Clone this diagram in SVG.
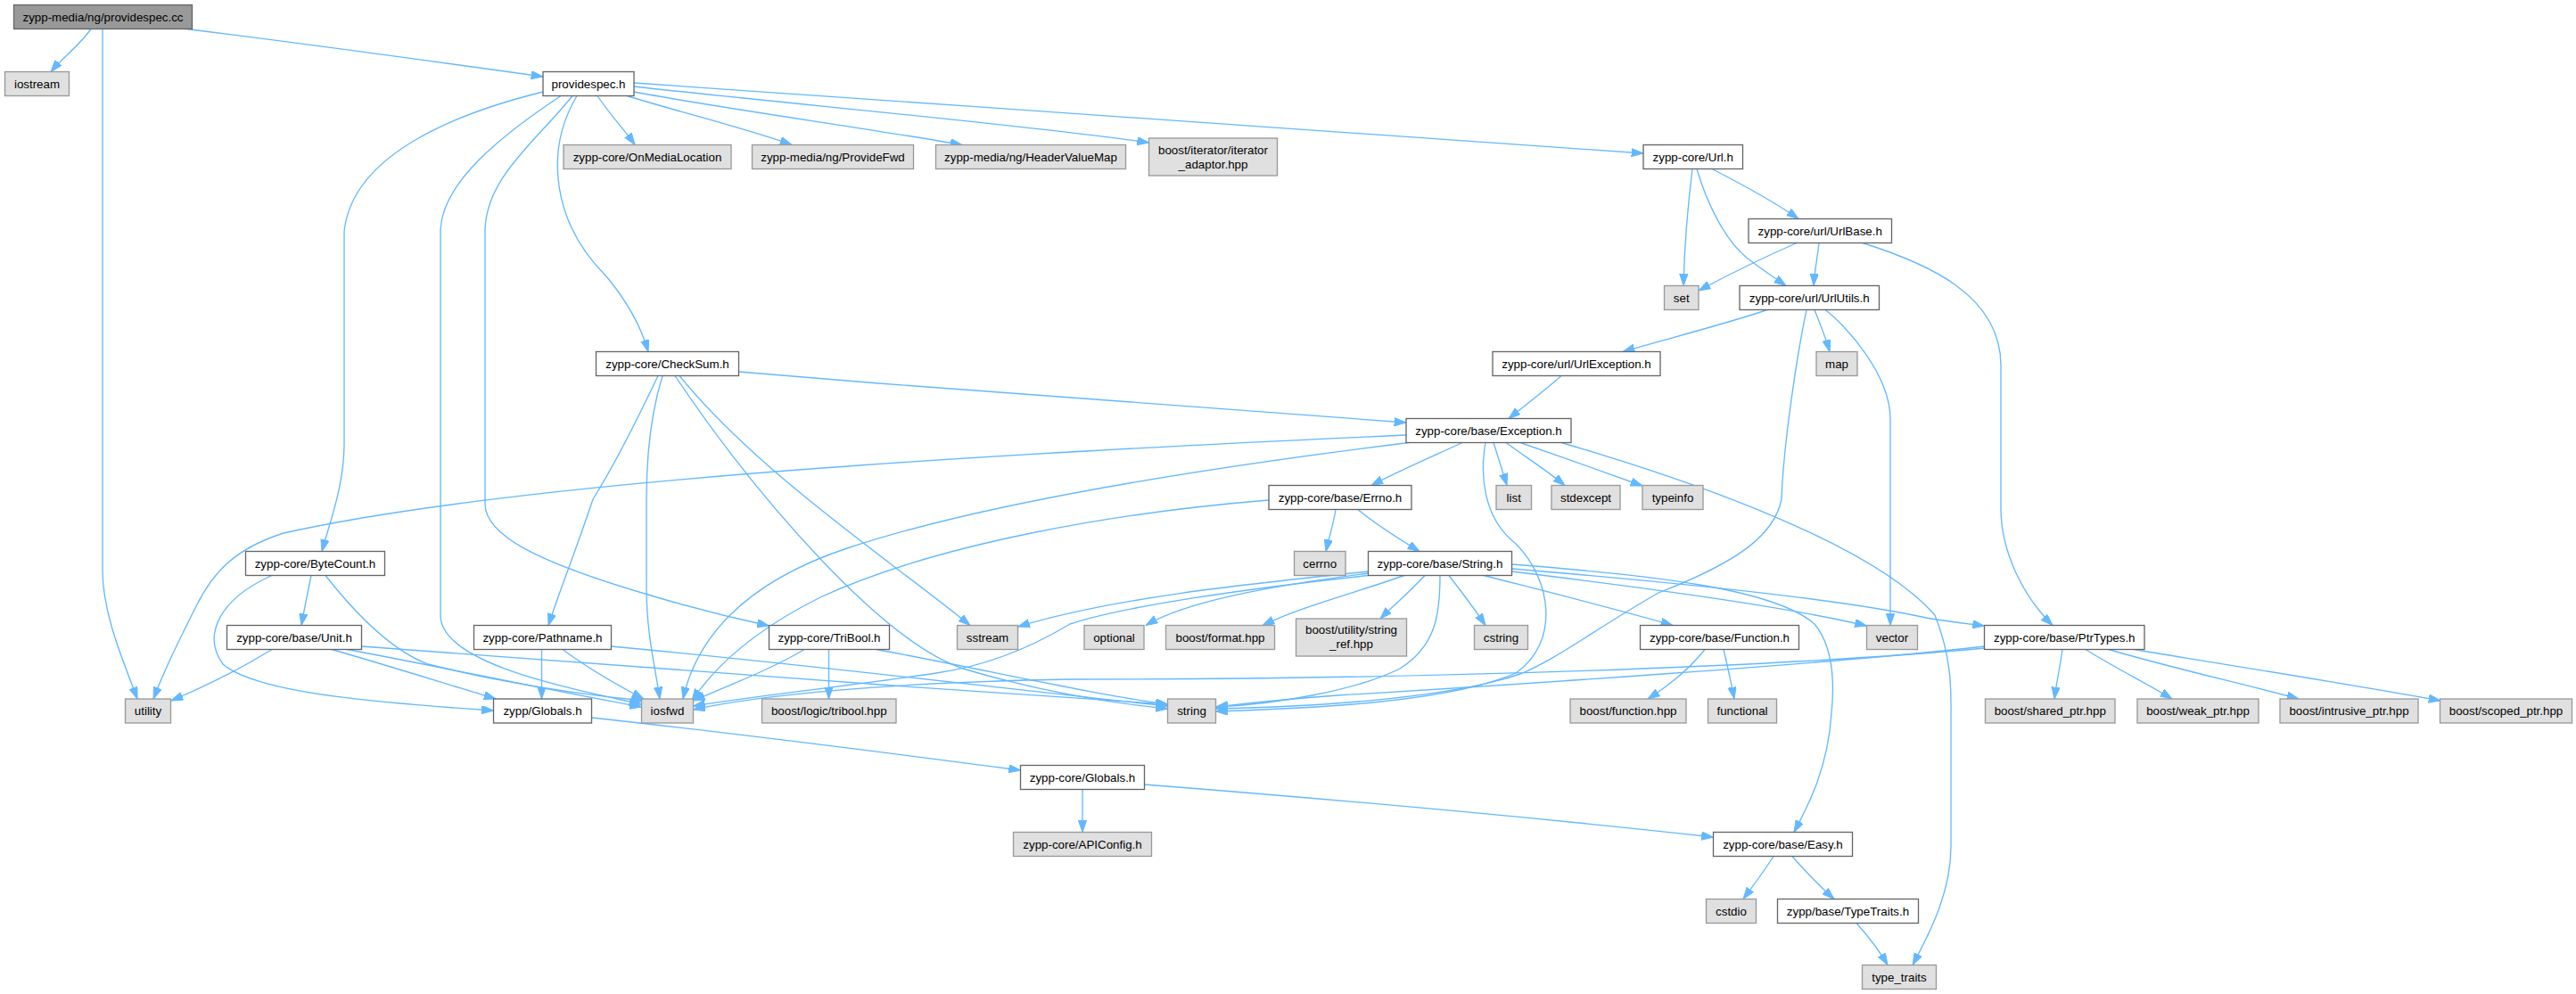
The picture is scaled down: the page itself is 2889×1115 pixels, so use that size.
<svg xmlns="http://www.w3.org/2000/svg" width="2889" height="1115" viewBox="0 0 2889 1115">
<style>
.e{fill:none;stroke:#63b8ff;stroke-width:1.33;marker-end:url(#a)}
.w rect{fill:#ffffff;stroke:#666666;stroke-width:1.33}
.g rect{fill:#e0e0e0;stroke:#999999;stroke-width:1.33}
.m rect{fill:#999999;stroke:#666666;stroke-width:1.33}
text{font-family:"Liberation Sans",Arial,Helvetica,sans-serif;font-size:13.33px;text-anchor:middle;fill:#000000}
</style>
<defs>
<marker id="a" markerUnits="userSpaceOnUse" markerWidth="14" markerHeight="10" refX="13.3" refY="4.67" orient="auto">
<path d="M0,0 L13.3,4.67 L0,9.33 z" fill="#63b8ff" stroke="#63b8ff" stroke-width="1"/>
</marker>
</defs>
<rect x="0" y="0" width="2889" height="1115" fill="#ffffff"/>
<g id="edges">
<path class="e" d="M102,32.5 C90,50 70,65 57,80.5"/>
<path class="e" d="M115,32.5 V640 C115,690 140,745 154,784"/>
<path class="e" d="M209,32.5 C350,50 480,68 609,86"/>
<path class="e" d="M609,103 C520,125 395,170 386,260 V497 C386,545 370,585 361,618.5"/>
<path class="e" d="M629,107.5 C565,150 494,205 494,260 V690 C494,745 640,772 719,790"/>
<path class="e" d="M642,107.5 C600,160 544,200 544,260 V565 C544,600 600,630 730,668 C780,683 830,695 862.5,702"/>
<path class="e" d="M647,107.5 C610,170 620,250 680,310 C705,340 720,370 727,394.5"/>
<path class="e" d="M670,107.5 C685,130 700,145 712,162.5"/>
<path class="e" d="M703,107.5 C760,125 840,145 888,162.5"/>
<path class="e" d="M711,103 C800,120 980,145 1079,162.5"/>
<path class="e" d="M711,97 C900,118 1150,140 1288.5,160"/>
<path class="e" d="M711,93 C1100,120 1600,155 1843,172"/>
<path class="e" d="M738,421.5 C715,470 690,520 665,560 C645,620 625,670 615,701.5"/>
<path class="e" d="M743,421.5 C728,470 725,520 725,560 V660 C725,710 735,750 740,784"/>
<path class="e" d="M757,421.5 C850,560 990,720 1080,750 C1180,780 1260,790 1309.5,795"/>
<path class="e" d="M762,421.5 C850,530 1000,630 1088,701.5"/>
<path class="e" d="M828.5,417 C1100,440 1400,462 1577,474"/>
<path class="e" d="M1898,189.5 C1893,230 1889,280 1888,320.5"/>
<path class="e" d="M1903,189.5 C1915,230 1935,270 1960,290 C1980,305 1995,315 2003,320.5"/>
<path class="e" d="M1920,189.5 C1960,210 1995,230 2017,245.5"/>
<path class="e" d="M2015,272.5 C1975,290 1935,310 1905,326"/>
<path class="e" d="M2040,272.5 C2038,290 2035,305 2034,320.5"/>
<path class="e" d="M2089,272.5 C2160,295 2244,330 2244,410 V570 C2244,620 2270,670 2302,701.5"/>
<path class="e" d="M1982,347.5 C1940,362 1870,380 1820,394.5"/>
<path class="e" d="M2026,347.5 C2015,400 2000,500 1998,560 C1990,600 1950,630 1860,665 C1790,705 1745,740 1705,756 C1620,785 1460,793 1363.5,795"/>
<path class="e" d="M2035,347.5 C2042,365 2048,380 2052,394.5"/>
<path class="e" d="M2047,347.5 C2070,365 2120,420 2120,470 V701.5"/>
<path class="e" d="M1751,421.5 C1730,440 1710,455 1692,469.5"/>
<path class="e" d="M1577,488 C1200,505 600,535 318,598 C265,615 240,640 220,680 C200,720 185,750 172,784"/>
<path class="e" d="M1580,496.5 C1350,525 1100,565 950,615 C830,655 780,720 766,784"/>
<path class="e" d="M1640,496.5 C1600,515 1565,530 1538,544.5"/>
<path class="e" d="M1666,496.5 C1660,530 1662,580 1700,610 C1740,650 1750,720 1700,755 C1620,790 1450,795 1363.5,798"/>
<path class="e" d="M1675,496.5 C1680,512 1685,528 1690,544.5"/>
<path class="e" d="M1689,496.5 C1710,512 1735,528 1755,544.5"/>
<path class="e" d="M1705,496.5 C1750,512 1800,530 1842,545"/>
<path class="e" d="M1751,496.5 C1900,540 2100,610 2170,690 C2190,740 2188,780 2188,800 V950 C2188,1000 2165,1045 2145,1082.5"/>
<path class="e" d="M1498,571.5 C1495,590 1490,605 1487,618.5"/>
<path class="e" d="M1523,571.5 C1545,590 1570,605 1592,618.5"/>
<path class="e" d="M1423,561 C1250,575 1050,610 920,670 C840,710 800,750 776,786"/>
<path class="e" d="M1535,641 C1400,655 1250,670 1141.5,703"/>
<path class="e" d="M1535,645.5 C1400,660 1260,680 1200,700 C1150,730 1100,748 1050,755 C950,770 850,780 777.5,792"/>
<path class="e" d="M1535,643 C1420,658 1330,675 1285,701.5"/>
<path class="e" d="M1575,645.5 C1520,665 1460,680 1416,701.5"/>
<path class="e" d="M1598,645.5 C1580,665 1562,680 1548,694"/>
<path class="e" d="M1615,645.5 C1615,690 1610,725 1570,750 C1520,775 1430,790 1363.5,793"/>
<path class="e" d="M1625,645.5 C1640,665 1655,685 1666,701.5"/>
<path class="e" d="M1664,645.5 C1740,665 1820,685 1876,701.5"/>
<path class="e" d="M1695.5,633 C1850,645 1990,660 2035,700 C2060,730 2056,780 2054,800 C2050,860 2030,900 2012,933.5"/>
<path class="e" d="M1695.5,638 C1900,655 2080,675 2160,693 C2190,698 2210,700 2225.5,702"/>
<path class="e" d="M1695.5,641 C1850,660 2000,680 2093.5,702"/>
<path class="e" d="M1912,728.5 C1895,750 1870,770 1848,784"/>
<path class="e" d="M1933,728.5 C1938,750 1942,768 1945,784"/>
<path class="e" d="M2226,727 C2000,748 1600,762 1200,762 C1000,765 850,780 777.5,796"/>
<path class="e" d="M2226,725 C2050,745 1700,768 1500,780 C1430,785 1390,790 1363.5,793"/>
<path class="e" d="M2313,728.5 C2310,750 2306,768 2304,784"/>
<path class="e" d="M2339,728.5 C2370,748 2410,768 2436,784"/>
<path class="e" d="M2365,728.5 C2430,748 2520,768 2578,784"/>
<path class="e" d="M2393,728.5 C2500,746 2650,770 2737,786"/>
<path class="e" d="M305,645.5 C250,670 225,710 250,745 C290,780 450,790 553.5,797"/>
<path class="e" d="M349,645.5 C345,665 341,685 338,701.5"/>
<path class="e" d="M365,645.5 C400,690 440,730 480,745 C580,770 660,780 722,786"/>
<path class="e" d="M305,728.5 C270,750 230,770 192,786"/>
<path class="e" d="M372,728.5 C430,745 510,770 556,784"/>
<path class="e" d="M389,728.5 C480,745 620,775 719.5,793"/>
<path class="e" d="M405.5,725 C600,740 1000,770 1309.5,790"/>
<path class="e" d="M607.5,728.5 V784"/>
<path class="e" d="M631,728.5 C660,750 695,770 722,784"/>
<path class="e" d="M685.5,725 C900,745 1150,775 1309.5,792"/>
<path class="e" d="M902,728.5 C870,748 820,768 777.5,786"/>
<path class="e" d="M929.5,728.5 V784"/>
<path class="e" d="M983,728.5 C1100,750 1230,780 1309.5,790"/>
<path class="e" d="M663.5,805 C800,820 1000,845 1144.5,864"/>
<path class="e" d="M1214,885.5 V933.5"/>
<path class="e" d="M1283.5,880 C1500,897 1750,920 1921.5,939"/>
<path class="e" d="M1989,960.5 C1978,978 1965,995 1955,1008.5"/>
<path class="e" d="M2010,960.5 C2025,978 2042,995 2057,1008.5"/>
<path class="e" d="M2082,1035.5 C2095,1050 2108,1067 2117,1082.5"/>
</g>
<g id="n_cc" class="m"><rect x="15.5" y="5.5" width="200" height="27"/><text x="115.5" y="23.7">zypp-media/ng/providespec.cc</text></g>
<g id="n_iostream" class="g"><rect x="5.5" y="80.5" width="72" height="27"/><text x="41.5" y="98.7">iostream</text></g>
<g id="n_providespec_h" class="w"><rect x="609" y="80.5" width="102" height="27"/><text x="660" y="98.7">providespec.h</text></g>
<g id="n_onmedialocation" class="g"><rect x="632" y="162.5" width="188" height="27"/><text x="726" y="180.7">zypp-core/OnMediaLocation</text></g>
<g id="n_providefwd" class="g"><rect x="843.5" y="162.5" width="181" height="27"/><text x="934" y="180.7">zypp-media/ng/ProvideFwd</text></g>
<g id="n_headervaluemap" class="g"><rect x="1049.5" y="162.5" width="213" height="27"/><text x="1156" y="180.7">zypp-media/ng/HeaderValueMap</text></g>
<g id="n_iterator_adaptor" class="g"><rect x="1288.5" y="155" width="144" height="42"/><text x="1360.5" y="172.5">boost/iterator/iterator</text><text x="1360.5" y="188.5">_adaptor.hpp</text></g>
<g id="n_url_h" class="w"><rect x="1843" y="162.5" width="111.5" height="27"/><text x="1898.75" y="180.7">zypp-core/Url.h</text></g>
<g id="n_urlbase_h" class="w"><rect x="1961" y="245.5" width="160.5" height="27"/><text x="2041.25" y="263.7">zypp-core/url/UrlBase.h</text></g>
<g id="n_set" class="g"><rect x="1866.5" y="320.5" width="38.5" height="27"/><text x="1885.75" y="338.7">set</text></g>
<g id="n_urlutils_h" class="w"><rect x="1951" y="320.5" width="156.5" height="27"/><text x="2029.25" y="338.7">zypp-core/url/UrlUtils.h</text></g>
<g id="n_checksum_h" class="w"><rect x="668.5" y="394.5" width="160" height="27"/><text x="748.5" y="412.7">zypp-core/CheckSum.h</text></g>
<g id="n_urlexception_h" class="w"><rect x="1674" y="394.5" width="188" height="27"/><text x="1768" y="412.7">zypp-core/url/UrlException.h</text></g>
<g id="n_map" class="g"><rect x="2037" y="394.5" width="46" height="27"/><text x="2060" y="412.7">map</text></g>
<g id="n_exception_h" class="w"><rect x="1577" y="469.5" width="185" height="27"/><text x="1669.5" y="487.7">zypp-core/base/Exception.h</text></g>
<g id="n_errno_h" class="w"><rect x="1423" y="544.5" width="160" height="27"/><text x="1503" y="562.7">zypp-core/base/Errno.h</text></g>
<g id="n_list" class="g"><rect x="1678" y="544.5" width="39.5" height="27"/><text x="1697.75" y="562.7">list</text></g>
<g id="n_stdexcept" class="g"><rect x="1740" y="544.5" width="77" height="27"/><text x="1778.5" y="562.7">stdexcept</text></g>
<g id="n_typeinfo" class="g"><rect x="1842" y="544.5" width="68" height="27"/><text x="1876" y="562.7">typeinfo</text></g>
<g id="n_bytecount_h" class="w"><rect x="275.5" y="618.5" width="156" height="27"/><text x="353.5" y="636.7">zypp-core/ByteCount.h</text></g>
<g id="n_cerrno" class="g"><rect x="1451.5" y="618.5" width="57.5" height="27"/><text x="1480.25" y="636.7">cerrno</text></g>
<g id="n_string_h" class="w"><rect x="1534.5" y="618.5" width="161" height="27"/><text x="1615" y="636.7">zypp-core/base/String.h</text></g>
<g id="n_unit_h" class="w"><rect x="254.5" y="701.5" width="151" height="27"/><text x="330" y="719.7">zypp-core/base/Unit.h</text></g>
<g id="n_pathname_h" class="w"><rect x="531.5" y="701.5" width="154" height="27"/><text x="608.5" y="719.7">zypp-core/Pathname.h</text></g>
<g id="n_tribool_h" class="w"><rect x="862.5" y="701.5" width="135" height="27"/><text x="930" y="719.7">zypp-core/TriBool.h</text></g>
<g id="n_sstream" class="g"><rect x="1073.5" y="701.5" width="68" height="27"/><text x="1107.5" y="719.7">sstream</text></g>
<g id="n_optional" class="g"><rect x="1216" y="701.5" width="67" height="27"/><text x="1249.5" y="719.7">optional</text></g>
<g id="n_format_hpp" class="g"><rect x="1307.5" y="701.5" width="122" height="27"/><text x="1368.5" y="719.7">boost/format.hpp</text></g>
<g id="n_string_ref_hpp" class="g"><rect x="1453.5" y="694" width="124" height="42"/><text x="1515.5" y="711">boost/utility/string</text><text x="1515.5" y="727">_ref.hpp</text></g>
<g id="n_cstring" class="g"><rect x="1653.5" y="701.5" width="60" height="27"/><text x="1683.5" y="719.7">cstring</text></g>
<g id="n_function_h" class="w"><rect x="1839.5" y="701.5" width="178" height="27"/><text x="1928.5" y="719.7">zypp-core/base/Function.h</text></g>
<g id="n_vector" class="g"><rect x="2093.5" y="701.5" width="57" height="27"/><text x="2122" y="719.7">vector</text></g>
<g id="n_ptrtypes_h" class="w"><rect x="2225.5" y="701.5" width="179.5" height="27"/><text x="2315.25" y="719.7">zypp-core/base/PtrTypes.h</text></g>
<g id="n_utility" class="g"><rect x="140.5" y="784" width="51" height="27"/><text x="166" y="802.2">utility</text></g>
<g id="n_zypp_globals_h" class="w"><rect x="553.5" y="784" width="110" height="27"/><text x="608.5" y="802.2">zypp/Globals.h</text></g>
<g id="n_iosfwd" class="g"><rect x="719.5" y="784" width="58" height="27"/><text x="748.5" y="802.2">iosfwd</text></g>
<g id="n_tribool_hpp" class="g"><rect x="854.5" y="784" width="150.5" height="27"/><text x="929.75" y="802.2">boost/logic/tribool.hpp</text></g>
<g id="n_string" class="g"><rect x="1309.5" y="784" width="54" height="27"/><text x="1336.5" y="802.2">string</text></g>
<g id="n_function_hpp" class="g"><rect x="1761" y="784" width="130" height="27"/><text x="1826" y="802.2">boost/function.hpp</text></g>
<g id="n_functional" class="g"><rect x="1915.5" y="784" width="77" height="27"/><text x="1954" y="802.2">functional</text></g>
<g id="n_shared_ptr" class="g"><rect x="2226.5" y="784" width="145.5" height="27"/><text x="2299.25" y="802.2">boost/shared_ptr.hpp</text></g>
<g id="n_weak_ptr" class="g"><rect x="2397" y="784" width="136" height="27"/><text x="2465" y="802.2">boost/weak_ptr.hpp</text></g>
<g id="n_intrusive_ptr" class="g"><rect x="2557" y="784" width="155" height="27"/><text x="2634.5" y="802.2">boost/intrusive_ptr.hpp</text></g>
<g id="n_scoped_ptr" class="g"><rect x="2736.5" y="784" width="148" height="27"/><text x="2810.5" y="802.2">boost/scoped_ptr.hpp</text></g>
<g id="n_core_globals_h" class="w"><rect x="1144.5" y="858.5" width="139" height="27"/><text x="1214" y="876.7">zypp-core/Globals.h</text></g>
<g id="n_apiconfig_h" class="g"><rect x="1136.5" y="933.5" width="155" height="27"/><text x="1214" y="951.7">zypp-core/APIConfig.h</text></g>
<g id="n_easy_h" class="w"><rect x="1921.5" y="933.5" width="156" height="27"/><text x="1999.5" y="951.7">zypp-core/base/Easy.h</text></g>
<g id="n_cstdio" class="g"><rect x="1913.5" y="1008.5" width="56" height="27"/><text x="1941.5" y="1026.7">cstdio</text></g>
<g id="n_typetraits_h" class="w"><rect x="1993.5" y="1008.5" width="158" height="27"/><text x="2072.5" y="1026.7">zypp/base/TypeTraits.h</text></g>
<g id="n_type_traits" class="g"><rect x="2088.5" y="1082.5" width="83" height="27"/><text x="2130" y="1100.7">type_traits</text></g>
</svg>
